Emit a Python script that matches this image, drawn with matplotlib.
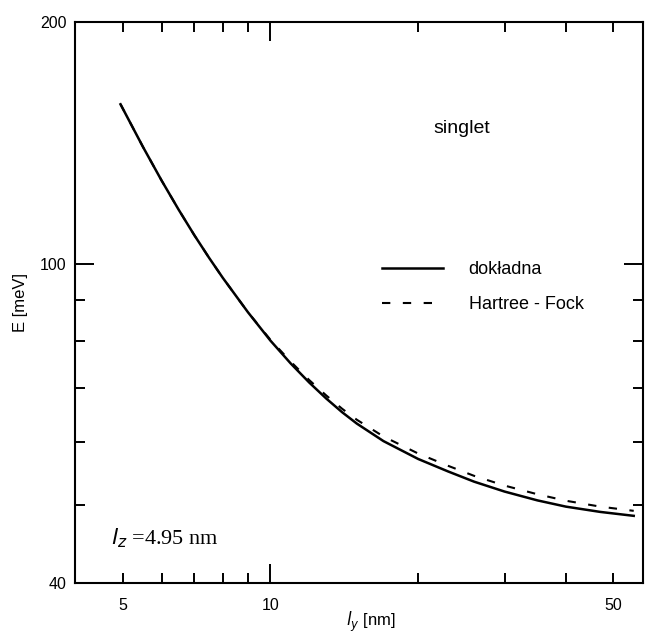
import matplotlib
matplotlib.use("Agg")
import matplotlib.pyplot as plt
from matplotlib.ticker import FixedLocator

plt.rcParams['font.family'] = ['Liberation Sans', 'DejaVu Sans']

# values: l_y [nm] and E [meV]
ly = [4.95, 5.5, 6.0, 6.5, 7.0, 7.5, 8.0, 9.0, 10.0, 11.0, 12.0, 13.0,
      14.0, 15.0, 17.0, 20.0, 23.0, 26.0, 30.0, 35.0, 40.0, 47.0, 55.0]
e_exact = [158.0, 139.8, 127.0, 116.8, 108.5, 101.7, 96.0, 87.0, 80.2, 75.1,
           71.1, 67.9, 65.3, 63.2, 60.1, 57.1, 55.1, 53.5, 52.0, 50.7, 49.8,
           49.05, 48.5]
e_hf = [158.0, 139.8, 127.0, 116.8, 108.5, 101.7, 96.0, 87.0, 80.4, 75.5,
        71.6, 68.5, 65.95, 63.9, 60.9, 58.0, 56.0, 54.4, 52.9, 51.6, 50.65,
        49.8, 49.2]

x_major = [10]
x_minor = [5, 6, 7, 8, 9, 20, 30, 40, 50]
x_minor_labels = ['5', '', '', '', '', '', '', '', '50']
y_major = [100]
y_minor = [40, 50, 60, 70, 80, 90, 200]
y_minor_labels = ['40', '', '', '', '', '', '200']

fig = plt.figure(figsize=(6.53, 6.41), dpi=100)
ax = fig.add_axes([0.115, 0.0905, 0.870, 0.875])

ax.plot(ly, e_exact, color='black', lw=1.8, label='dokładna')
ax.plot(ly, e_hf, color='black', lw=1.5, dashes=(4, 6), label='Hartree - Fock')

ax.set_xscale('log')
ax.set_yscale('log')
ax.set_xlim(4, 57.5)
ax.set_ylim(40, 200)

ax.xaxis.set_major_locator(FixedLocator(x_major))
ax.xaxis.set_minor_locator(FixedLocator(x_minor))
ax.set_xticks(x_major, labels=['10'])
ax.set_xticks(x_minor, labels=x_minor_labels, minor=True)
ax.yaxis.set_major_locator(FixedLocator(y_major))
ax.yaxis.set_minor_locator(FixedLocator(y_minor))
ax.set_yticks(y_major, labels=['100'])
ax.set_yticks(y_minor, labels=y_minor_labels, minor=True)

ax.tick_params(which='both', direction='in', top=True, right=True,
               width=1.4, labelsize=11.5, color='black')
ax.tick_params(which='major', length=14)
ax.tick_params(which='minor', length=7)
ax.tick_params(axis='x', which='both', pad=11)
ax.tick_params(axis='y', which='both', pad=6)

for s in ax.spines.values():
    s.set_linewidth(1.5)

ax.set_ylabel('E [meV]', fontsize=12, labelpad=9)
ax.set_xlabel(r'$l_y$ [nm]', fontsize=12)
ax.xaxis.set_label_coords(0.52, -0.048)

ax.text(0.68, 0.81, 'singlet', transform=ax.transAxes, fontsize=14,
        ha='center', va='center')
ax.text(0.064, 0.08, r'$l_z$ =4.95 nm', transform=ax.transAxes,
        fontsize=16, family=['Liberation Serif', 'DejaVu Serif'],
        ha='left', va='center')

ax.legend(loc='upper left', bbox_to_anchor=(0.54, 0.574), frameon=False,
          fontsize=13, handlelength=3.4, handletextpad=1.4,
          labelspacing=1.0, borderpad=0, borderaxespad=0)

fig.savefig('out.png', dpi=100)
